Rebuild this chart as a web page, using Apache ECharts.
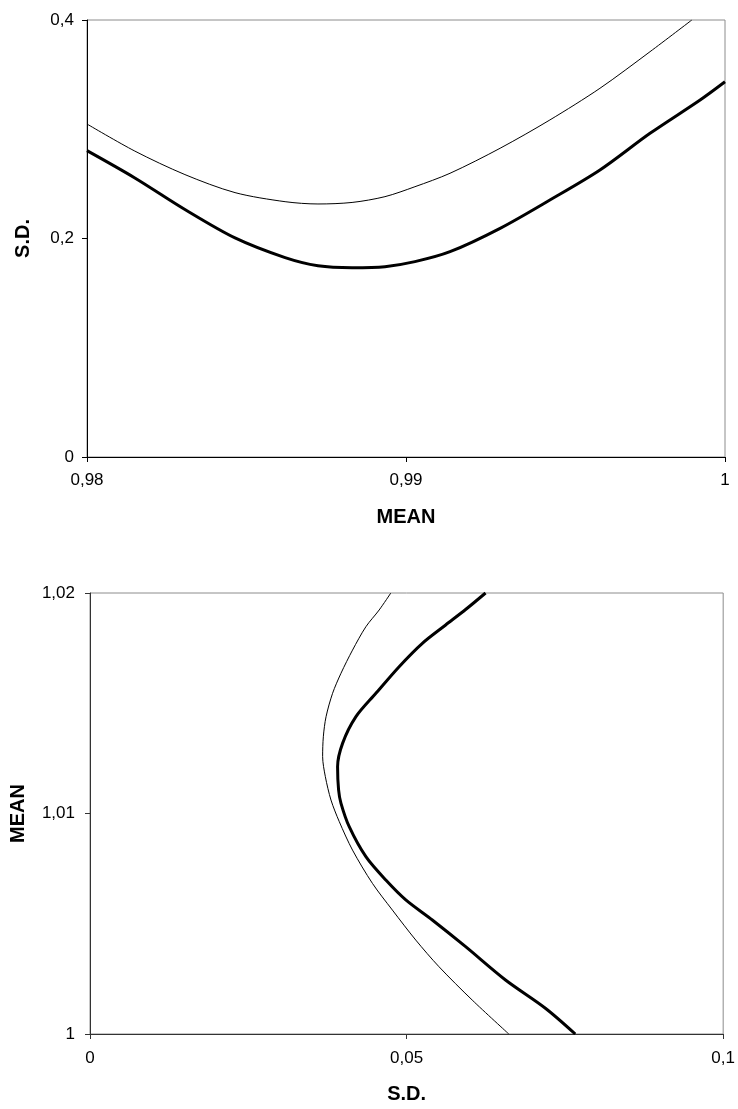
<!DOCTYPE html>
<html>
<head>
<meta charset="utf-8">
<script src="https://cdn.jsdelivr.net/npm/echarts@6/dist/echarts.min.js"></script>
<style>
html,body{margin:0;padding:0;background:#fff;}
#chart{width:738px;height:1109px;}
</style>
</head>
<body>
<div id="chart"></div>
<script>
// Top chart: x = MEAN, y = S.D.
var topThinMean  = [0.98, 0.9815, 0.98307, 0.98464, 0.98621, 0.98724, 0.98831, 0.98934, 0.99028, 0.99138, 0.99295, 0.99451, 0.99608, 0.99765, 0.99896];
var topThinSD    = [0.3048, 0.2800, 0.2585, 0.2420, 0.2337, 0.2316, 0.2330, 0.2383, 0.2474, 0.2597, 0.2826, 0.3085, 0.3375, 0.3710, 0.4];
var topThickMean = [0.98, 0.9815, 0.98307, 0.98464, 0.98621, 0.98724, 0.98831, 0.98934, 0.99028, 0.99138, 0.99295, 0.99451, 0.99608, 0.99765, 0.99922, 1.0];
var topThickSD   = [0.2804, 0.2554, 0.2265, 0.2005, 0.1825, 0.1751, 0.1733, 0.1742, 0.1788, 0.1879, 0.2093, 0.2352, 0.2627, 0.2963, 0.3268, 0.3435];

// Bottom chart: x = S.D., y = MEAN
var botThinSD    = [0.04751, 0.04567, 0.04357, 0.04146, 0.03964, 0.03831, 0.03728, 0.03685, 0.03674, 0.03717, 0.03806, 0.03937, 0.04146, 0.04461, 0.04776, 0.05145, 0.05512, 0.06036, 0.06614];
var botThinMean  = [1.02, 1.01923, 1.01847, 1.01741, 1.01636, 1.01545, 1.01439, 1.01348, 1.01258, 1.01167, 1.01061, 1.00963, 1.00834, 1.00683, 1.00562, 1.00426, 1.00305, 1.00154, 1.0];
var botThickSD   = [0.06247, 0.05932, 0.05617, 0.05249, 0.04882, 0.04515, 0.04200, 0.03989, 0.03910, 0.03926, 0.03964, 0.04094, 0.04357, 0.04672, 0.04987, 0.05406, 0.05932, 0.06562, 0.07192, 0.07664];
var botThickMean = [1.02, 1.01925, 1.01855, 1.01772, 1.01666, 1.01545, 1.01439, 1.01318, 1.01212, 1.01107, 1.01046, 1.0094, 1.00804, 1.00698, 1.00608, 1.00517, 1.00396, 1.00245, 1.00117, 1.0];

// Axis ticks
var topXTicks = [0.98, 0.99, 1];
var topYTicks = [0, 0.2, 0.4];
var botXTicks = [0, 0.05, 0.1];
var botYTicks = [1, 1.01, 1.02];

function pairs(xs, ys) { return xs.map(function (x, i) { return [x, ys[i]]; }); }
function fmt(v) { return String(+(+v).toFixed(4)).replace('.', ','); }

var FONT = '"Liberation Sans", Arial, sans-serif';
var labelStyle = { color: '#000', fontSize: 17, fontFamily: FONT };
var nameStyle = { color: '#000', fontSize: 20, fontWeight: 'bold', fontFamily: FONT };

function valAxis(ticks, name, gap, labelMargin, axisColor) {
  return {
    type: 'value',
    min: ticks[0],
    max: ticks[ticks.length - 1],
    interval: ticks[1] - ticks[0],
    name: name,
    nameLocation: 'middle',
    nameGap: gap,
    nameTextStyle: nameStyle,
    axisLine: { show: true, onZero: false, lineStyle: { color: axisColor, width: 1 } },
    axisTick: { show: true, inside: false, length: 5, lineStyle: { color: axisColor } },
    axisLabel: Object.assign({ margin: labelMargin, formatter: fmt }, labelStyle),
    splitLine: { show: false }
  };
}

function curve(xi, yi, data, width) {
  return {
    type: 'line', xAxisIndex: xi, yAxisIndex: yi, data: data,
    showSymbol: false, smooth: 0.3,
    lineStyle: { color: '#000', width: width }
  };
}

var chart = echarts.init(document.getElementById('chart'), null, { renderer: 'canvas' });

var option = {
  animation: false,
  backgroundColor: '#fff',
  grid: [
    { left: 87, right: 13, top: 20, height: 437, show: true, borderColor: '#8c8c8c', borderWidth: 1, backgroundColor: 'transparent', containLabel: false },
    { left: 90, right: 13, top: 593, height: 441, show: true, borderColor: '#8c8c8c', borderWidth: 1, backgroundColor: 'transparent', containLabel: false }
  ],
  xAxis: [
    Object.assign(valAxis(topXTicks, 'MEAN', 50, 15, '#000'), { gridIndex: 0 }),
    Object.assign(valAxis(botXTicks, 'S.D.', 50, 16, '#333'), { gridIndex: 1 })
  ],
  yAxis: [
    Object.assign(valAxis(topYTicks, 'S.D.', 54, 13, '#000'), { gridIndex: 0, nameRotate: 90 }),
    Object.assign(valAxis(botYTicks, 'MEAN', 62, 15, '#333'), { gridIndex: 1, nameRotate: 90 })
  ],
  series: [
    curve(0, 0, pairs(topThinMean, topThinSD), 1),
    curve(0, 0, pairs(topThickMean, topThickSD), 3),
    curve(1, 1, pairs(botThinSD, botThinMean), 1),
    curve(1, 1, pairs(botThickSD, botThickMean), 3)
  ]
};
chart.setOption(option);
</script>
</body>
</html>
